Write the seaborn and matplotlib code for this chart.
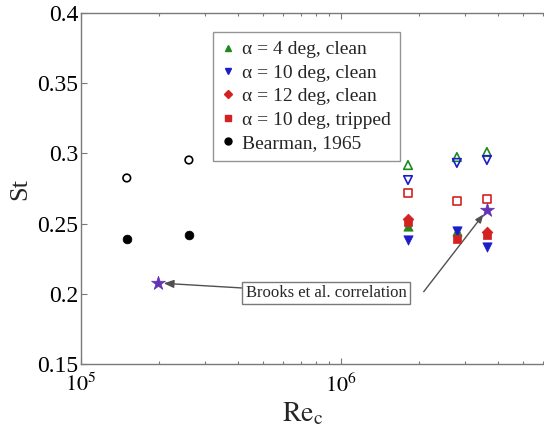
import matplotlib
matplotlib.use("Agg")
import matplotlib.pyplot as plt
import seaborn as sns
import numpy as np
import pandas as pd
from matplotlib.ticker import FixedLocator, FixedFormatter, LogLocator, NullFormatter
from matplotlib.lines import Line2D

# ---------------- data ----------------
re_cols = [1.81e6, 2.79e6, 3.64e6]

# filled markers (primary peak)
re_4_clean = [1.81e6, 2.79e6]
st_4_clean = [0.2483, 0.2447]
re_10_clean = [1.81e6, 2.79e6, 3.64e6]
st_10_clean = [0.2383, 0.2447, 0.2333]
re_12_clean = [1.81e6, 3.64e6]
st_12_clean = [0.2535, 0.2438]
re_10_trip = [1.81e6, 2.79e6, 3.64e6]
st_10_trip = [0.2510, 0.2390, 0.2418]

# open markers (secondary peak)
st_4_open = [0.2917, 0.2974, 0.3010]
st_10_open = [0.2810, 0.2932, 0.2953]
st_10t_open = [0.2720, 0.2661, 0.2675]

# Bearman, 1965
re_bear = [1.50e5, 2.60e5]
st_bear = [0.2390, 0.2419]
st_bear_open = [0.2825, 0.2953]

# Brooks et al. correlation
re_brooks = [1.98e5, 3.64e6]
st_brooks = [0.2077, 0.2597]

y_ticks = [0.15, 0.2, 0.25, 0.3, 0.35, 0.4]
y_tick_labels = ["0.15", "0.2", "0.25", "0.3", "0.35", "0.4"]
x_ticks = [1e5, 1e6, 1e7]
x_tick_labels = [r"$10^{5}$", r"$10^{6}$", ""]

legend_labels = ["α = 4 deg, clean", "α = 10 deg, clean", "α = 12 deg, clean",
                 "α = 10 deg, tripped", "Bearman, 1965"]

GREEN = "#1e8a1e"
BLUE = "#1c1cc8"
RED = "#d42222"
BLACK = "#000000"
PURPLE = "#6432b4"
GRAY = "#7a7a7a"

# ---------------- style ----------------
sns.set_style("ticks")
plt.rcParams["font.family"] = ["Liberation Serif", "DejaVu Serif"]
plt.rcParams["mathtext.fontset"] = "stix"

fig = plt.figure(figsize=(5.44, 4.34), dpi=100)
ax = fig.add_axes([81 / 544, 1 - 364 / 434, 520 / 544, 351 / 434])
ax.set_xscale("log")


def sc(x, y, marker, color, filled=True, size=40, z=3, lw=1.2):
    df = pd.DataFrame({"x": x, "y": y})
    if filled:
        sns.scatterplot(data=df, x="x", y="y", marker=marker, s=size, color=color,
                        edgecolor=color, linewidth=0.5, ax=ax, zorder=z, legend=False)
    else:
        sns.scatterplot(data=df, x="x", y="y", marker=marker, s=size, facecolor="none",
                        edgecolor=color, linewidth=lw, ax=ax, zorder=z, legend=False)


# open markers
sc(re_cols, st_4_open, "^", GREEN, filled=False, size=38)
sc(re_cols, st_10_open, "v", BLUE, filled=False, size=38)
sc(re_cols, st_10t_open, "s", RED, filled=False, size=30)
sc(re_bear, st_bear_open, "o", BLACK, filled=False, size=30)

# filled markers
sc(re_4_clean, st_4_clean, "^", GREEN, size=45, z=3)
sc(re_10_clean, st_10_clean, "v", BLUE, size=45, z=4)
sc(re_10_trip, st_10_trip, "s", RED, size=36, z=5)
sc(re_12_clean, st_12_clean, "D", RED, size=30, z=6)
sc(re_bear, st_bear, "o", BLACK, size=40, z=3)
sc(re_brooks, st_brooks, "*", PURPLE, size=110, z=7)

# axes
ax.set_xlim(1e5, 1e7)
ax.set_ylim(0.15, 0.4)
ax.yaxis.set_major_locator(FixedLocator(y_ticks))
ax.yaxis.set_major_formatter(FixedFormatter(y_tick_labels))
ax.xaxis.set_major_locator(FixedLocator(x_ticks))
ax.xaxis.set_major_formatter(FixedFormatter(x_tick_labels))
ax.xaxis.set_minor_locator(LogLocator(base=10, subs=np.arange(2, 10)))
ax.xaxis.set_minor_formatter(NullFormatter())
ax.tick_params(which="both", direction="in", top=True, right=True, colors=GRAY)
ax.tick_params(which="major", length=4, width=0.8)
ax.tick_params(which="minor", length=2.5, width=0.8)
ax.tick_params(axis="y", labelsize=17, labelcolor="black", pad=2)
ax.tick_params(axis="x", labelsize=16, labelcolor="black", pad=7)
for sp in ax.spines.values():
    sp.set_color(GRAY)
    sp.set_linewidth(1.0)

ax.set_xlabel(r"$\mathrm{Re}_{\mathrm{c}}$", fontsize=20)
ax.xaxis.set_label_coords((303 - 81) / 520, -0.105)
ax.set_ylabel("St", fontsize=19, labelpad=4)

# legend
handles = [
    Line2D([], [], ls="none", marker="^", color=GREEN, markersize=5),
    Line2D([], [], ls="none", marker="v", color=BLUE, markersize=5),
    Line2D([], [], ls="none", marker="D", color=RED, markersize=4),
    Line2D([], [], ls="none", marker="s", color=RED, markersize=4.5),
    Line2D([], [], ls="none", marker="o", color=BLACK, markersize=5),
]
leg = ax.legend(handles, legend_labels, loc="upper left",
                bbox_to_anchor=((213 - 81) / 520, (364 - 32) / 351),
                borderaxespad=0, fontsize=14, frameon=True, fancybox=False,
                handlelength=0.6, handletextpad=0.45, labelspacing=0.3,
                borderpad=0.45)
leg.get_frame().set_edgecolor(GRAY)
leg.get_frame().set_linewidth(1.0)

# annotation
txt_x, txt_y = 8.75e5, 0.2006
arrow_kw = dict(arrowstyle="-|>,head_length=0.5,head_width=0.2", color="#505050",
                lw=1.0, shrinkA=0, shrinkB=4)
ax.annotate("Brooks et al. correlation", xy=(re_brooks[0], st_brooks[0]),
            xytext=(txt_x, txt_y), ha="center", va="center", fontsize=12,
            bbox=dict(boxstyle="square,pad=0.2", fc="white", ec=GRAY, lw=1.0),
            arrowprops=dict(**arrow_kw))
ax.annotate("", xy=(re_brooks[1], st_brooks[1]), xytext=(2.08e6, 0.2015),
            arrowprops=dict(**arrow_kw))

fig.savefig("out.png", dpi=100)
